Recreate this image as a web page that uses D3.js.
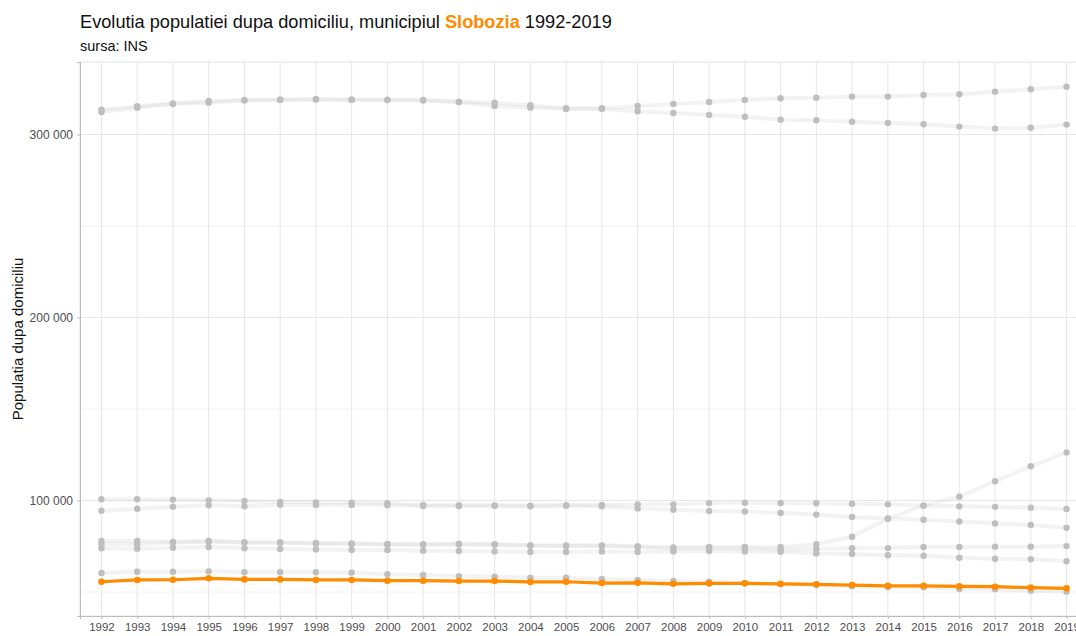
<!DOCTYPE html>
<html>
<head>
<meta charset="utf-8">
<script src="https://cdn.jsdelivr.net/npm/d3@7"></script>
<style>
  body { margin: 0; background: #fff; }
  svg { font-family: "Liberation Sans", Arial, sans-serif; display: block; }
</style>
</head>
<body>
<div id="chart"></div>
<script>
// ani si valori (populatia dupa domiciliu)
const ani = [1992, 1993, 1994, 1995, 1996, 1997, 1998, 1999, 2000, 2001, 2002, 2003, 2004, 2005,
  2006, 2007, 2008, 2009, 2010, 2011, 2012, 2013, 2014, 2015, 2016, 2017, 2018, 2019]

const slobozia = [55600, 56600, 56700, 57500, 56900, 56900, 56600, 56600, 56200, 56200, 56000, 56000, 55500, 55600,
  54900, 55000, 54500, 54700, 54750, 54500, 54200, 53800, 53400, 53400, 53100, 52900, 52400, 52000]

// celelalte municipii (gri)
const serieA = [313500, 315400, 317000, 318300, 318900, 319100, 319300, 319100, 319000, 318800, 317900, 317400, 316000, 314300,
  314300, 315600, 316700, 317800, 318900, 319800, 320100, 320700, 320700, 321600, 322000, 323400, 324700, 326100]
const serieB = [312300, 314600, 316600, 317400, 318500, 318900, 319100, 318900, 318800, 318600, 317700, 315600, 314600, 313900,
  313900, 312700, 311700, 310700, 309700, 308100, 307800, 307000, 306300, 305600, 304300, 303200, 303700, 305400]
const serieC = [100700, 100700, 100500, 100100, 99700, 99200, 99000, 98800, 98600, 97600, 97400, 97300, 97100, 97500,
  97600, 97900, 97900, 98600, 98800, 98600, 98500, 98300, 97900, 97200, 96800, 96500, 96100, 95400]
const serieD = [94400, 95500, 96600, 97400, 96800, 97700, 97600, 97600, 97400, 97000, 97000, 97100, 96900, 97200,
  96900, 95700, 95000, 94300, 94000, 93200, 92300, 91000, 90200, 89500, 88600, 87500, 86600, 85100]
const serieR = [77900, 77900, 77400, 77900, 77200, 77200, 76800, 76600, 76300, 76100, 76400, 76100, 75600, 75500,
  75500, 75000, 74400, 74600, 74600, 74600, 76100, 80200, 90000, 97300, 102100, 110500, 118700, 126300]
const serieE = [76100, 76100, 77000, 77600, 77000, 76900, 76400, 76300, 76000, 75800, 76000, 75800, 75300, 75200,
  75200, 74600, 73800, 74000, 73800, 73300, 73500, 73900, 74000, 74600, 74600, 74800, 74800, 75100]
const serieF = [73900, 73700, 74200, 74600, 73900, 73500, 73300, 73000, 73000, 72600, 72400, 72200, 71900, 71900,
  72200, 71900, 72200, 72400, 72200, 72000, 71100, 70800, 70100, 69800, 68700, 68200, 67900, 66800]
const serieH = [60400, 61100, 61100, 61300, 60800, 60800, 60800, 60600, 59700, 59300, 58700, 58400, 57800, 57800,
  57100, 56600, 56000, 55600, 54800, 54200, 53800, 53200, 52600, 52600, 51600, 51500, 50700, 50200]

const gri = [serieA, serieB, serieC, serieD, serieR, serieE, serieF, serieH]

const yTicks = [100000, 200000, 300000]
const yMinor = [50000, 150000, 250000]

const width = 1076
const height = 636
const panel = { left: 80, top: 62, right: 1088, bottom: 616 }

const svg = d3.select('#chart')
  .append('svg')
  .attr('width', width)
  .attr('height', height)

const x = d3.scaleLinear()
  .domain([1991.4, 2019.6])
  .range([panel.left, panel.right])

const y = d3.scaleLinear()
  .domain([36900, 339600])
  .range([panel.bottom, panel.top])

const fmt = d3.formatLocale({ decimal: ',', thousands: ' ', grouping: [3], currency: ['', ''] }).format(',d')

// grid
const grid = svg.append('g')
grid.selectAll('.minor')
  .data(yMinor)
  .join('line')
  .attr('x1', panel.left).attr('x2', panel.right)
  .attr('y1', d => y(d)).attr('y2', d => y(d))
  .attr('stroke', '#f3f3f3')
grid.selectAll('.major')
  .data(yTicks)
  .join('line')
  .attr('x1', panel.left).attr('x2', panel.right)
  .attr('y1', d => y(d)).attr('y2', d => y(d))
  .attr('stroke', '#e6e6e6')
grid.selectAll('.vert')
  .data(ani)
  .join('line')
  .attr('x1', d => x(d)).attr('x2', d => x(d))
  .attr('y1', panel.top).attr('y2', panel.bottom)
  .attr('stroke', '#e6e6e6')

// panel border
svg.append('rect')
  .attr('x', panel.left).attr('y', panel.top)
  .attr('width', panel.right - panel.left).attr('height', panel.bottom - panel.top)
  .attr('fill', 'none')
  .attr('stroke', '#e3e3e3')

const line = d3.line()
  .x((d, i) => x(ani[i]))
  .y(d => y(d))

// gray series
svg.append('g')
  .selectAll('path')
  .data(gri)
  .join('path')
  .attr('d', line)
  .attr('fill', 'none')
  .attr('stroke', '#bdbdbd')
  .attr('stroke-opacity', 0.18)
  .attr('stroke-width', 4)

const griPts = gri.flatMap(s => s.map((v, i) => ({ an: ani[i], v })))
svg.append('g')
  .selectAll('circle')
  .data(griPts)
  .join('circle')
  .attr('cx', d => x(d.an))
  .attr('cy', d => y(d.v))
  .attr('r', 3.2)
  .attr('fill', '#bebebe')

// Slobozia
svg.append('path')
  .datum(slobozia)
  .attr('d', line)
  .attr('fill', 'none')
  .attr('stroke', '#ff8c00')
  .attr('stroke-width', 3.2)

svg.append('g')
  .selectAll('circle')
  .data(slobozia)
  .join('circle')
  .attr('cx', (d, i) => x(ani[i]))
  .attr('cy', d => y(d))
  .attr('r', 3.3)
  .attr('fill', '#ff8c00')

// axes
const yAxis = svg.append('g')
  .attr('transform', `translate(${panel.left},0)`)
  .call(d3.axisLeft(y).tickValues(yTicks).tickFormat(fmt).tickSize(3).tickPadding(4))
const xAxis = svg.append('g')
  .attr('transform', `translate(0,${panel.bottom})`)
  .call(d3.axisBottom(x).tickValues(ani).tickFormat(d3.format('d')).tickSize(3).tickPadding(4))

for (const ax of [yAxis, xAxis]) {
  ax.select('.domain').attr('stroke', '#bdbdbd')
  ax.selectAll('.tick line').attr('stroke', '#bdbdbd')
  ax.selectAll('.tick text')
    .attr('fill', '#4d4d4d')
    .style('font-size', '11.5px')
    .style('font-family', '"Liberation Sans", Arial, sans-serif')
}
yAxis.selectAll('.tick text').style('font-size', '12px')

// y label
svg.append('text')
  .attr('transform', `translate(23,${(panel.top + panel.bottom) / 2}) rotate(-90)`)
  .attr('text-anchor', 'middle')
  .style('font-size', '15px')
  .attr('fill', '#111')
  .text('Populatia dupa domiciliu')

// title
const title = svg.append('text')
  .attr('x', 80)
  .attr('y', 28)
  .style('font-size', '18.2px')
  .attr('fill', '#111')
title.append('tspan').text('Evolutia populatiei dupa domiciliu, municipiul ')
title.append('tspan').attr('fill', '#ff8c00').attr('font-weight', 'bold').text('Slobozia')
title.append('tspan').text(' 1992-2019')

svg.append('text')
  .attr('x', 80)
  .attr('y', 51)
  .style('font-size', '14.5px')
  .attr('fill', '#111')
  .text('sursa: INS')
</script>
</body>
</html>
